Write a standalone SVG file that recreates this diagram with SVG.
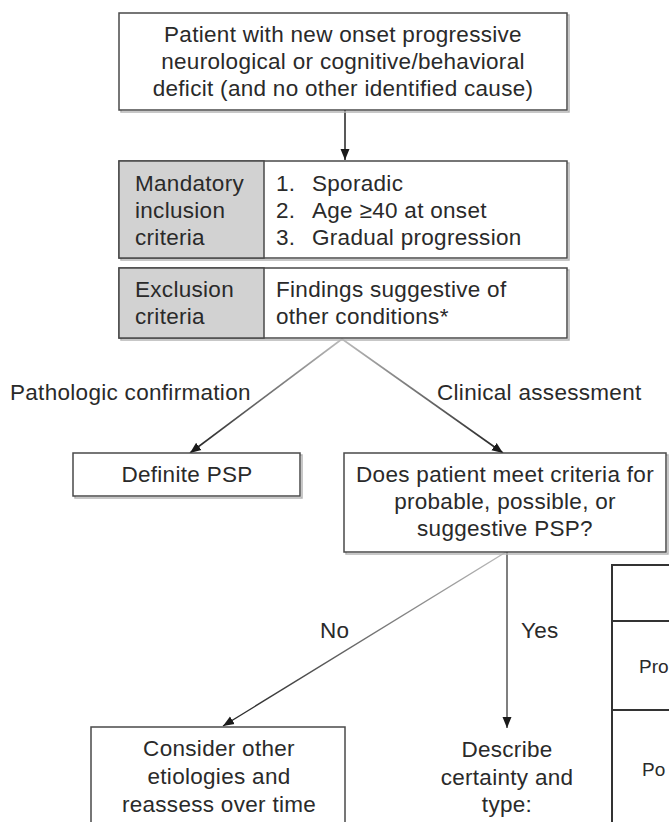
<svg xmlns="http://www.w3.org/2000/svg" width="669" height="822" viewBox="0 0 669 822">
<style>
text{font-family:"Liberation Sans",Arial,sans-serif;font-size:22.5px;letter-spacing:0.3px;fill:#2a2a2a}
.c{text-anchor:middle}
.box{fill:#fff;stroke:#4a4a4a;stroke-width:1.5}
.sh{fill:none;stroke:#b5b5b5;stroke-width:1.5}
.gray{fill:#d2d2d2;stroke:#4a4a4a;stroke-width:1.5}
.tbl{fill:none;stroke:#333;stroke-width:2}
.tt{font-size:19px;letter-spacing:0}
</style>
<defs>
<marker id="ah" markerWidth="12" markerHeight="10" refX="11" refY="5" orient="auto" markerUnits="userSpaceOnUse">
<path d="M0,0.5 L11,5 L0,9.5 z" fill="#1a1a1a"/>
</marker>
<linearGradient id="g1" gradientUnits="userSpaceOnUse" x1="342" y1="339" x2="190" y2="453"><stop offset="0" stop-color="#bbb"/><stop offset="1" stop-color="#222"/></linearGradient>
<linearGradient id="g2" gradientUnits="userSpaceOnUse" x1="342" y1="339" x2="503" y2="453"><stop offset="0" stop-color="#bbb"/><stop offset="1" stop-color="#222"/></linearGradient>
<linearGradient id="g3" gradientUnits="userSpaceOnUse" x1="506" y1="552" x2="223" y2="726"><stop offset="0" stop-color="#bbb"/><stop offset="1" stop-color="#222"/></linearGradient>
</defs>

<g id="connectors" fill="none">
<line x1="345" y1="110" x2="345" y2="160" stroke="#222" stroke-width="1.5" marker-end="url(#ah)"/>
<line x1="342" y1="339" x2="190" y2="453" stroke="url(#g1)" stroke-width="1.6" marker-end="url(#ah)"/>
<line x1="342" y1="339" x2="503" y2="453" stroke="url(#g2)" stroke-width="1.6" marker-end="url(#ah)"/>
<line x1="506" y1="552" x2="223" y2="726" stroke="url(#g3)" stroke-width="1.4" marker-end="url(#ah)"/>
<line x1="507" y1="552" x2="507" y2="728" stroke="#555" stroke-width="1.5" marker-end="url(#ah)"/>
<text x="10" y="400">Pathologic confirmation</text>
<text x="437" y="400">Clinical assessment</text>
<text x="320" y="638">No</text>
<text x="521" y="638">Yes</text>
</g>

<g id="start">
<rect class="sh" x="121" y="15" width="448" height="97"/>
<rect class="box" x="119" y="13" width="448" height="97"/>
<text class="c" x="343" y="42">Patient with new onset progressive</text>
<text class="c" x="343" y="69">neurological or cognitive/behavioral</text>
<text class="c" x="343" y="96">deficit (and no other identified cause)</text>
</g>

<g id="inclusion">
<rect class="sh" x="121" y="163" width="448" height="97"/>
<rect class="box" x="119" y="161" width="448" height="97"/>
<rect class="gray" x="119" y="161" width="145" height="97"/>
<text x="135" y="191">Mandatory</text>
<text x="135" y="218">inclusion</text>
<text x="135" y="245">criteria</text>
<text x="276" y="191">1.</text><text x="312" y="191">Sporadic</text>
<text x="276" y="218">2.</text><text x="312" y="218">Age ≥40 at onset</text>
<text x="276" y="245">3.</text><text x="312" y="245">Gradual progression</text>
</g>

<g id="exclusion">
<rect class="sh" x="121" y="270" width="448" height="70"/>
<rect class="box" x="119" y="268" width="448" height="70"/>
<rect class="gray" x="119" y="268" width="145" height="70"/>
<text x="135" y="297">Exclusion</text>
<text x="135" y="324">criteria</text>
<text x="276" y="297">Findings suggestive of</text>
<text x="276" y="324">other conditions*</text>
</g>

<g id="definite">
<rect class="sh" x="75" y="455" width="227" height="43"/>
<rect class="box" x="73" y="453" width="227" height="43"/>
<text class="c" x="187" y="482">Definite PSP</text>
</g>

<g id="question">
<rect class="sh" x="346" y="455" width="322" height="99"/>
<rect class="box" x="344" y="453" width="322" height="99"/>
<text class="c" x="505" y="482">Does patient meet criteria for</text>
<text class="c" x="505" y="509">probable, possible, or</text>
<text class="c" x="505" y="536">suggestive PSP?</text>
</g>

<g id="consider">
<rect class="box" x="91" y="727" width="254" height="110"/>
<text class="c" x="219" y="756">Consider other</text>
<text class="c" x="219" y="784">etiologies and</text>
<text class="c" x="219" y="812">reassess over time</text>
</g>

<g id="describe">
<text class="c" x="507" y="757">Describe</text>
<text class="c" x="507" y="785">certainty and</text>
<text class="c" x="507" y="812">type:</text>
</g>

<g id="table">
<path class="tbl" d="M670,565 H612 V830 M612,621 H670 M612,710 H670"/>
<text class="tt" x="639" y="673">Pro</text>
<text class="tt" x="642" y="776">Po</text>
</g>
</svg>
